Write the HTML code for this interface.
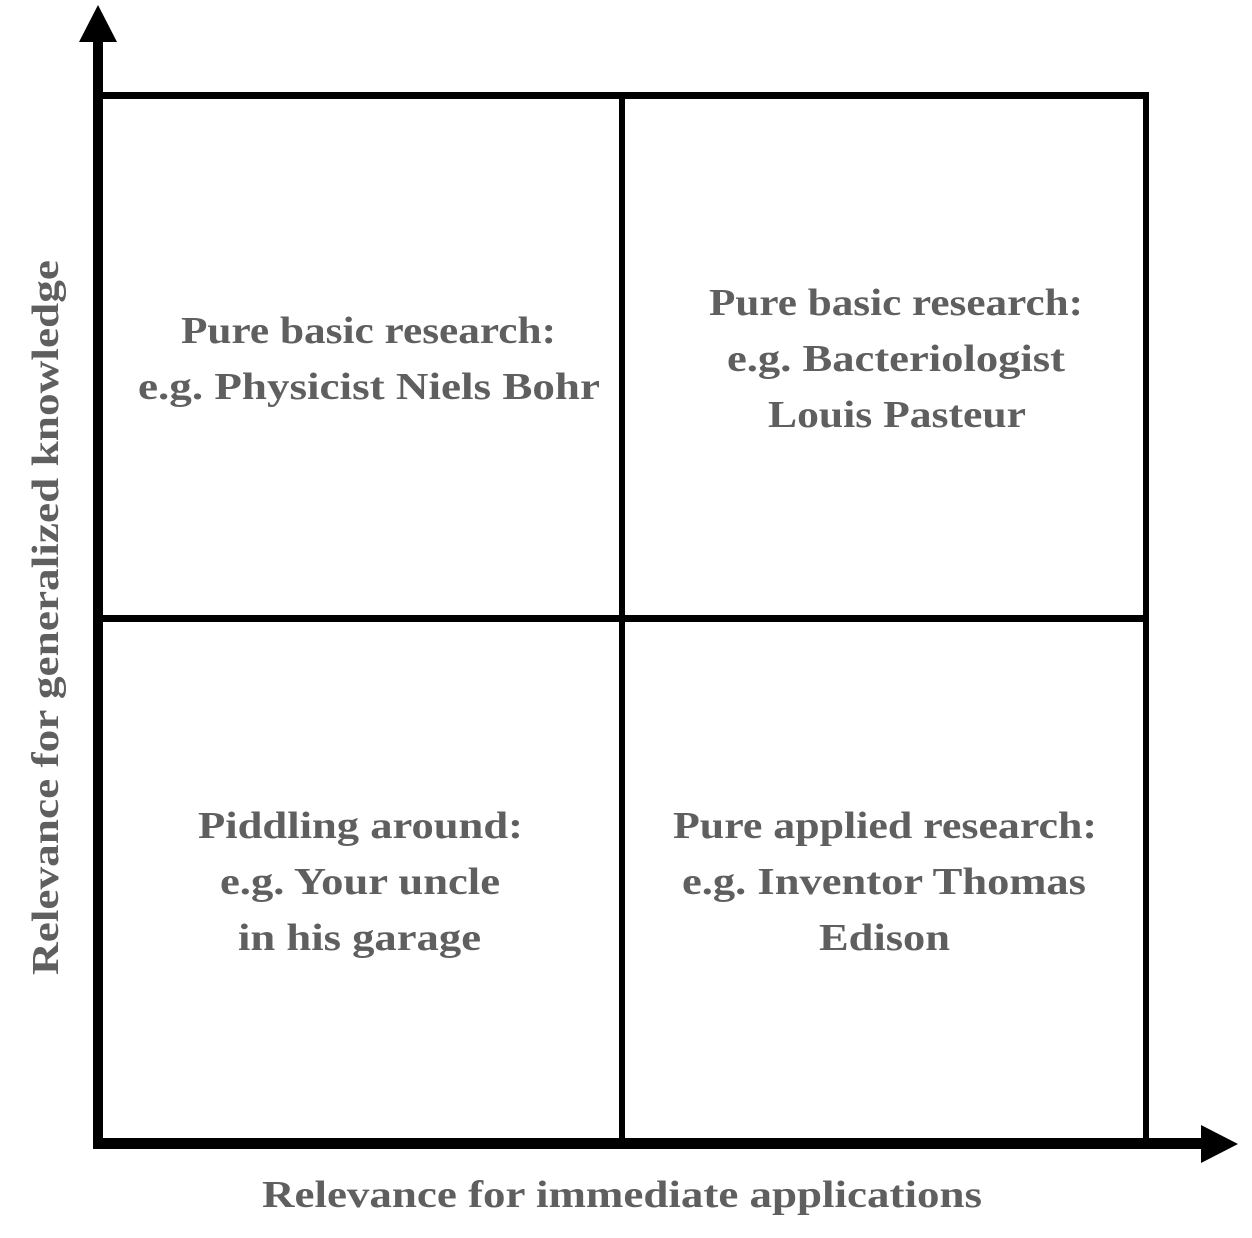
<!DOCTYPE html>
<html><head><meta charset="utf-8"><style>html,body{margin:0;padding:0;background:#fff}svg{display:block}</style></head>
<body>
<svg width="1252" height="1238" viewBox="0 0 1252 1238" xmlns="http://www.w3.org/2000/svg">
<g fill="#000">
<rect x="93" y="40" width="10" height="1109"/>
<rect x="93" y="1138" width="1110" height="11"/>
<polygon points="98,5 79,42 117,42"/>
<polygon points="1238,1144 1201,1125 1201,1163"/>
<rect x="100" y="92" width="1049" height="7"/>
<rect x="100" y="615" width="1049" height="7"/>
<rect x="619" y="92" width="6" height="1050"/>
<rect x="1143" y="92" width="6" height="1050"/>
</g>
<g fill="#5f5f5f" font-family="'Liberation Serif',serif" font-weight="bold" font-size="38" lengthAdjust="spacingAndGlyphs">
<text x="181" y="343" textLength="375" lengthAdjust="spacingAndGlyphs">Pure basic research:</text>
<text x="138" y="399" textLength="462" lengthAdjust="spacingAndGlyphs">e.g. Physicist Niels Bohr</text>
<text x="709" y="315" textLength="374" lengthAdjust="spacingAndGlyphs">Pure basic research:</text>
<text x="727" y="371" textLength="338" lengthAdjust="spacingAndGlyphs">e.g. Bacteriologist</text>
<text x="768" y="427" textLength="258" lengthAdjust="spacingAndGlyphs">Louis Pasteur</text>
<text x="198" y="838" textLength="325" lengthAdjust="spacingAndGlyphs">Piddling around:</text>
<text x="220" y="894" textLength="280" lengthAdjust="spacingAndGlyphs">e.g. Your uncle</text>
<text x="238" y="950" textLength="243" lengthAdjust="spacingAndGlyphs">in his garage</text>
<text x="673" y="838" textLength="424" lengthAdjust="spacingAndGlyphs">Pure applied research:</text>
<text x="682" y="894" textLength="404" lengthAdjust="spacingAndGlyphs">e.g. Inventor Thomas</text>
<text x="819" y="950" textLength="131" lengthAdjust="spacingAndGlyphs">Edison</text>
<text x="262" y="1207" textLength="720" lengthAdjust="spacingAndGlyphs">Relevance for immediate applications</text>
<text transform="translate(58,975) rotate(-90)" x="0" y="0" textLength="715" lengthAdjust="spacingAndGlyphs">Relevance for generalized knowledge</text>
</g>
</svg>
</body></html>
